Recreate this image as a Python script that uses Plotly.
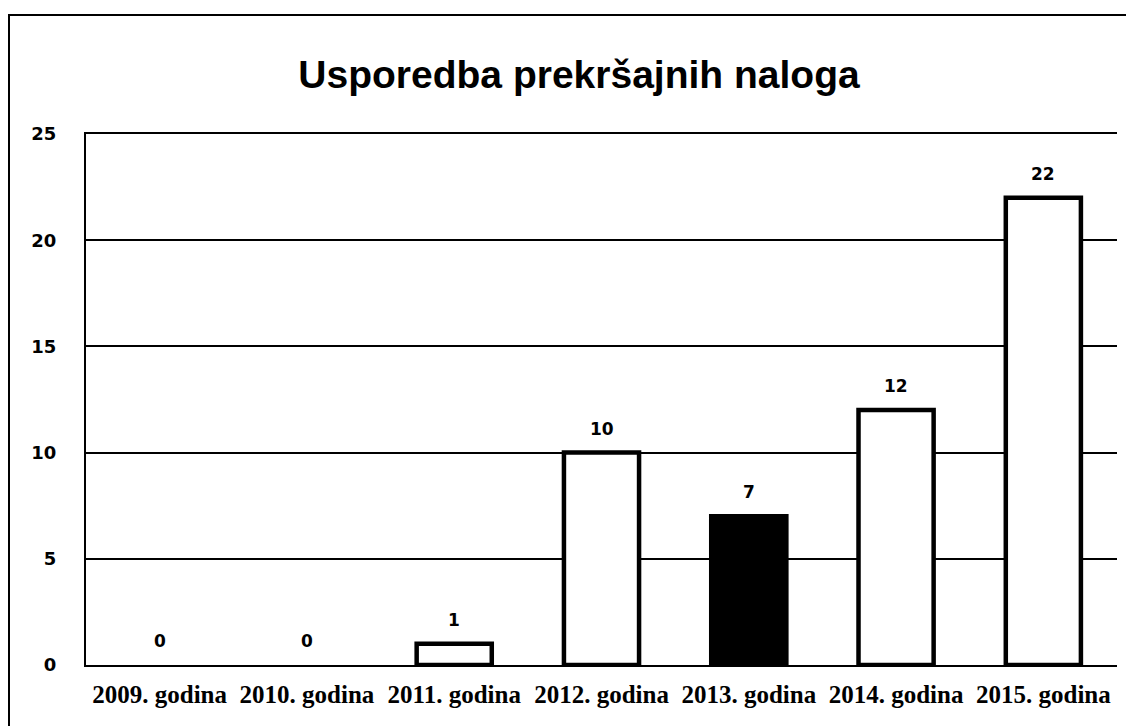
import plotly.graph_objects as go

categories = ["2009. godina", "2010. godina", "2011. godina", "2012. godina",
              "2013. godina", "2014. godina", "2015. godina"]
values = [0, 0, 1, 10, 7, 12, 22]
fill_colors = ["white", "white", "white", "white", "black", "white", "white"]
y_ticks = [0, 5, 10, 15, 20, 25]
title_text = "Usporedba prekršajnih naloga"

W, H = 1134, 726
OFF = 8  # page body margin
L, R, T, B = 86 - OFF, 25, 134 - OFF, 69

fig = go.Figure(go.Bar(
    x=categories, y=values,
    marker=dict(color=fill_colors,
                line=dict(color="black", width=[4.5 if v > 0 else 0 for v in values])),
    hoverinfo="x+y",
))

for c, v in zip(categories, values):
    fig.add_annotation(x=c, y=v, text="<b>%d</b>" % v, showarrow=False,
                       yanchor="middle", yshift=24,
                       font=dict(family="DejaVu Sans", size=17, color="black"))

pw = W - L - R
ph = H - T - B
def px_x(p):
    return (p - OFF - L) / pw
def px_y(p):
    return (H - B - (p - OFF)) / ph

fig.add_shape(type="rect", xref="paper", yref="paper",
              x0=px_x(9), x1=px_x(1150), y0=px_y(760), y1=px_y(15),
              line=dict(color="black", width=2), fillcolor="rgba(0,0,0,0)", layer="below")

fig.update_layout(
    width=W, height=H,
    margin=dict(l=L, r=R, t=T, b=B, autoexpand=False),
    paper_bgcolor="white", plot_bgcolor="white",
    title=dict(text="<b>" + title_text + "</b>", x=(579 - OFF) / W, xanchor="center",
               y=1 - (74 - OFF) / H, yanchor="middle",
               font=dict(family="Liberation Sans", size=39, color="black")),
    bargap=0.49,
    showlegend=False,
    xaxis=dict(showline=True, mirror=True, linecolor="black", linewidth=2, ticks="",
               tickfont=dict(family="Liberation Serif", size=25, color="black"),
               ticklabelstandoff=6, automargin=False),
    yaxis=dict(range=[0, 25], tickvals=y_ticks, showline=True, linecolor="black",
               linewidth=2, showgrid=True, gridcolor="black", gridwidth=2,
               ticks="", zeroline=False, automargin=False,
               tickfont=dict(family="DejaVu Sans", size=18, color="black"),
               ticklabelstandoff=24),
)
fig.update_xaxes(tickvals=categories, ticktext=["<b>" + c + "</b>" for c in categories])
fig.update_yaxes(ticktext=["<b>%d</b>" % v for v in y_ticks])

fig.write_html("out.html")
